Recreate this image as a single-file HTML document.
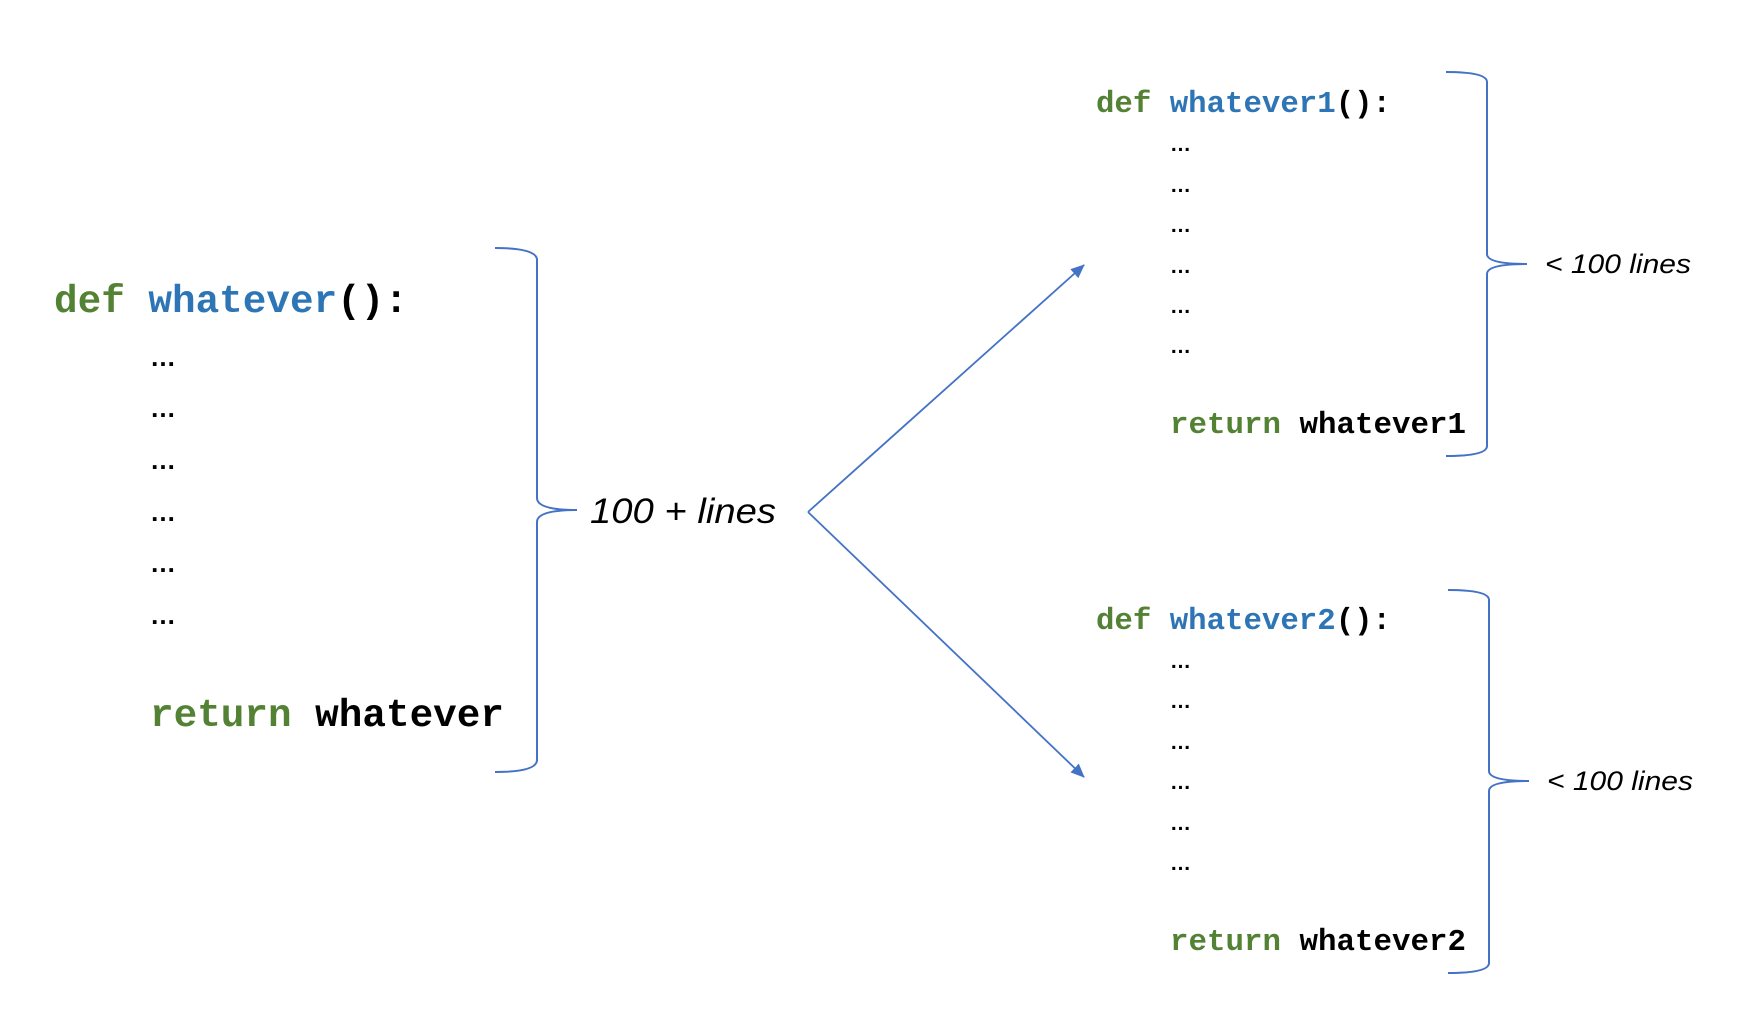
<!DOCTYPE html>
<html><head><meta charset="utf-8"><style>
html,body{margin:0;padding:0;background:#fff;}
svg{display:block;}
.m{font-family:"Liberation Mono",monospace;font-weight:bold;}
.g{fill:#548235;}
.b{fill:#2e75b6;}
.k{fill:#000;}
.d{font-family:"Liberation Sans",sans-serif;font-weight:bold;fill:#000;}
.i{font-family:"Liberation Sans",sans-serif;font-style:italic;fill:#000;}
</style></head><body>
<svg width="1752" height="1024" viewBox="0 0 1752 1024" xmlns="http://www.w3.org/2000/svg">
<defs><marker id="ar" markerWidth="14" markerHeight="14" refX="13" refY="6" orient="auto" markerUnits="userSpaceOnUse"><path d="M0,0 L14,6 L0,12 z" fill="#4472c4"/></marker></defs>
<g transform="translate(-2,-2)">
<text class="m" x="56" y="314" font-size="39" textLength="354" lengthAdjust="spacingAndGlyphs"><tspan class="g">def </tspan><tspan class="b">whatever</tspan><tspan class="k">():</tspan></text>
<g class="d" font-size="26">
<text x="152" y="368">…</text><text x="152" y="419">…</text><text x="152" y="471">…</text><text x="152" y="523">…</text><text x="152" y="574">…</text><text x="152" y="626">…</text>
</g>
<text class="m" x="152" y="728" font-size="39" textLength="354" lengthAdjust="spacingAndGlyphs"><tspan class="g">return </tspan><tspan class="k">whatever</tspan></text>
<path d="M497,250 Q539,250 539,262 L539,500 Q539,512 579,512 Q539,512 539,524 L539,762 Q539,774 497,774" fill="none" stroke="#4472c4" stroke-width="2"/>
<text class="i" x="592" y="525" font-size="35" textLength="186" lengthAdjust="spacingAndGlyphs">100 + lines</text>
<line x1="810" y1="514" x2="1086" y2="267" stroke="#4472c4" stroke-width="1.8" marker-end="url(#ar)"/>
<line x1="810" y1="514" x2="1086" y2="779" stroke="#4472c4" stroke-width="1.8" marker-end="url(#ar)"/>
</g>
<g transform="translate(-7,-2)">
<text class="m" x="1103" y="114" font-size="31" textLength="295" lengthAdjust="spacingAndGlyphs"><tspan class="g">def </tspan><tspan class="b">whatever1</tspan><tspan class="k">():</tspan></text>
<g class="d" font-size="21">
<text x="1177" y="153">…</text><text x="1177" y="194">…</text><text x="1177" y="234">…</text><text x="1177" y="275">…</text><text x="1177" y="315">…</text><text x="1177" y="355">…</text>
</g>
<text class="m" x="1177" y="435" font-size="31" textLength="296" lengthAdjust="spacingAndGlyphs"><tspan class="g">return </tspan><tspan class="k">whatever1</tspan></text>
<path d="M1453,74 Q1494,74 1494,84 L1494,256 Q1494,266 1534,266 Q1494,266 1494,276 L1494,448 Q1494,458 1453,458" fill="none" stroke="#4472c4" stroke-width="2"/>
<text class="i" x="1552" y="275" font-size="27" textLength="146" lengthAdjust="spacingAndGlyphs">&lt; 100 lines</text>
<text class="m" x="1103" y="631" font-size="31" textLength="295" lengthAdjust="spacingAndGlyphs"><tspan class="g">def </tspan><tspan class="b">whatever2</tspan><tspan class="k">():</tspan></text>
<g class="d" font-size="21">
<text x="1177" y="670">…</text><text x="1177" y="710">…</text><text x="1177" y="751">…</text><text x="1177" y="791">…</text><text x="1177" y="832">…</text><text x="1177" y="872">…</text>
</g>
<text class="m" x="1177" y="952" font-size="31" textLength="296" lengthAdjust="spacingAndGlyphs"><tspan class="g">return </tspan><tspan class="k">whatever2</tspan></text>
<path d="M1455,592 Q1496,592 1496,602 L1496,773 Q1496,783 1536,783 Q1496,783 1496,793 L1496,965 Q1496,975 1455,975" fill="none" stroke="#4472c4" stroke-width="2"/>
<text class="i" x="1554" y="792" font-size="27" textLength="146" lengthAdjust="spacingAndGlyphs">&lt; 100 lines</text>
</g>
</svg>
</body></html>
